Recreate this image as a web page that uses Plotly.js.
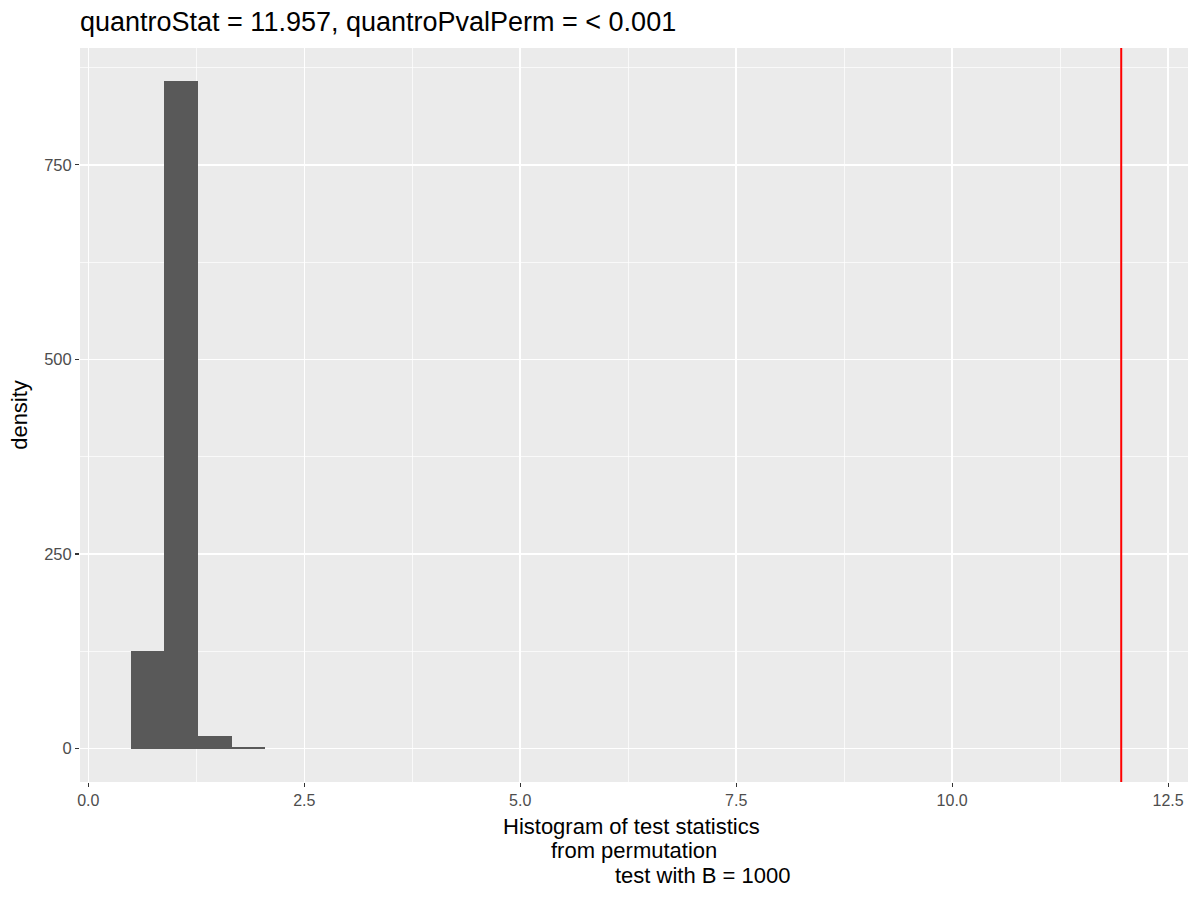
<!DOCTYPE html>
<html>
<head>
<meta charset="utf-8">
<script src="https://cdn.plot.ly/plotly-3.0.1.min.js"></script>
<style>
  body { margin: 0; background: #ffffff; }
  #chart { width: 1200px; height: 900px; }
</style>
</head>
<body>
<div id="chart"></div>
<script>
// histogram of permutation test statistics
var binCenters = [0.685, 1.073, 1.466, 1.854];
var binDensity = [125, 857, 16, 2];
var binWidth = 0.39;
var quantroStat = 11.957;
var xTicks = [0, 2.5, 5, 7.5, 10, 12.5];
var xTickLabels = ['0.0', '2.5', '5.0', '7.5', '10.0', '12.5'];
var yTicks = [0, 250, 500, 750];
var xTitleLines = ['Histogram of test statistics', 'from permutation', 'test with B = 1000'];

var fontFamily = 'Liberation Sans, Arial, sans-serif';

var hist_trace = {
    x: binCenters,
    y: binDensity,
    width: binCenters.map(function() { return binWidth; }),
    type: 'bar',
    marker: { color: '#595959', line: { width: 0 } },
    hoverinfo: 'x+y'
};

// x title is three separate lines, the last one shifted right
var titlePos = [[0.498, -0.060], [0.500, -0.093], [0.562, -0.127]];
var annotations = xTitleLines.map(function(t, i) {
    return {
        text: t, xref: 'paper', yref: 'paper',
        x: titlePos[i][0], y: titlePos[i][1],
        xanchor: 'center', yanchor: 'middle',
        showarrow: false,
        font: { family: fontFamily, size: 22, color: '#000000' }
    };
});

var layout = {
    width: 1200,
    height: 900,
    paper_bgcolor: '#ffffff',
    plot_bgcolor: '#EBEBEB',
    margin: { l: 80, r: 12, t: 48, b: 118 },
    showlegend: false,
    bargap: 0,
    title: {
        text: 'quantroStat = 11.957, quantroPvalPerm = < 0.001',
        x: 80 / 1200, xanchor: 'left', xref: 'container',
        y: 1 - 22 / 900, yanchor: 'middle',
        font: { family: fontFamily, size: 27, color: '#000000' }
    },
    xaxis: {
        range: [-0.096, 12.73],
        tickvals: xTicks,
        ticktext: xTickLabels,
        ticks: 'outside', ticklen: 4, tickwidth: 1.2, tickcolor: '#333333',
        tickfont: { family: fontFamily, size: 16, color: '#4D4D4D' },
        showgrid: true, gridcolor: '#ffffff', gridwidth: 1.5,
        minor: { dtick: 1.25, tick0: 0, showgrid: true, gridcolor: '#ffffff', gridwidth: 0.7, ticks: '' },
        zeroline: false, showline: false
    },
    yaxis: {
        range: [-43, 900],
        tickvals: yTicks,
        ticks: 'outside', ticklen: 4, tickwidth: 1.2, tickcolor: '#333333',
        tickfont: { family: fontFamily, size: 16.5, color: '#4D4D4D' },
        showgrid: true, gridcolor: '#ffffff', gridwidth: 1.5,
        minor: { dtick: 125, tick0: 0, showgrid: true, gridcolor: '#ffffff', gridwidth: 0.7, ticks: '' },
        zeroline: false, showline: false,
        title: { text: 'density', standoff: 10, font: { family: fontFamily, size: 22, color: '#000000' } }
    },
    shapes: [{
        type: 'line', xref: 'x', yref: 'paper',
        x0: quantroStat, x1: quantroStat, y0: 0, y1: 1,
        line: { color: '#FF0000', width: 2 }
    }],
    annotations: annotations
};

Plotly.newPlot('chart', [hist_trace], layout, { displayModeBar: false, staticPlot: true });
</script>
</body>
</html>
